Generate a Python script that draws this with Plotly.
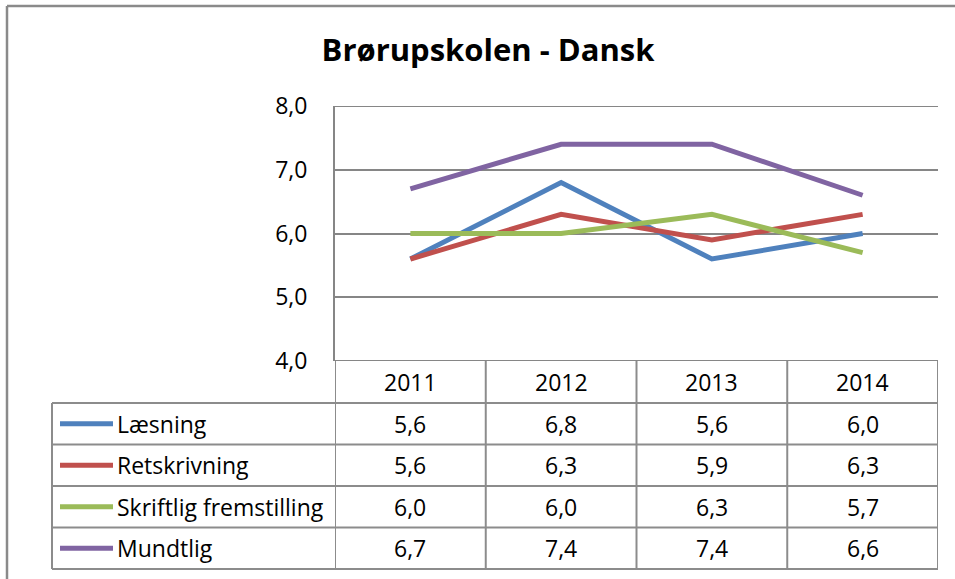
import plotly.graph_objects as go

title = "Brørupskolen - Dansk"
years = ["2011", "2012", "2013", "2014"]
series_names = ["Læsning", "Retskrivning", "Skriftlig fremstilling", "Mundtlig"]
laesning = [5.6, 6.8, 5.6, 6.0]
retskrivning = [5.6, 6.3, 5.9, 6.3]
skriftlig = [6.0, 6.0, 6.3, 5.7]
mundtlig = [6.7, 7.4, 7.4, 6.6]
series_values = [laesning, retskrivning, skriftlig, mundtlig]
colors = ["#4F81BD", "#C0504D", "#9BBB59", "#8064A2"]
y_ticks = [4, 5, 6, 7, 8]

W, H = 955, 579
L, R, T, B = 335, 938, 106, 361
FONT = "Open Sans"
FS = 23
GRID = "#868686"

def px(x):
    return (x - L) / (R - L)

def py(y):
    return (B - y) / (B - T)

fig = go.Figure()
xs = list(range(len(years)))
for name, vals, c in zip(series_names, series_values, colors):
    fig.add_trace(go.Scatter(x=xs, y=vals, mode="lines", name=name,
                             line=dict(color=c, width=5), showlegend=False,
                             cliponaxis=False))

shapes = []
ann = []
# outer chart border
shapes.append(dict(type="line", xref="paper", yref="paper", x0=px(7), x1=px(W + 5), y0=py(6), y1=py(6),
                   line=dict(color="#8a8a8a", width=2.5)))
shapes.append(dict(type="line", xref="paper", yref="paper", x0=px(7), x1=px(7), y0=py(6), y1=py(H + 5),
                   line=dict(color="#8a8a8a", width=2.5)))

# table geometry
row_top = 403
row_h = 41.5
n = len(series_names)
tab_bottom = row_top + row_h * n
lc = dict(color="#8c8c8c", width=2)
for k in range(len(years) + 1):
    shapes.append(dict(type="line", xref="x", yref="paper", x0=k - 0.5, x1=k - 0.5,
                       y0=py(B), y1=py(tab_bottom), line=lc))
shapes.append(dict(type="line", xref="paper", yref="paper", x0=px(52), x1=px(52),
                   y0=py(row_top), y1=py(tab_bottom), line=lc))
for i in range(n + 1):
    yy = row_top + row_h * i
    shapes.append(dict(type="line", xref="paper", yref="paper", x0=px(52), x1=1,
                       y0=py(yy), y1=py(yy), line=lc))

for k, yr in enumerate(years):
    ann.append(dict(x=k, y=py((B + row_top) / 2), xref="x", yref="paper", text=yr,
                    showarrow=False, yanchor="middle", xanchor="center",
                    font=dict(family=FONT, size=FS, color="black")))
for i, (name, vals, c) in enumerate(zip(series_names, series_values, colors)):
    yc = row_top + row_h * (i + 0.5)
    shapes.append(dict(type="line", xref="paper", yref="paper", x0=px(60), x1=px(113),
                       y0=py(yc), y1=py(yc), line=dict(color=c, width=5)))
    ann.append(dict(x=px(115), y=py(yc), xref="paper", yref="paper", text=name,
                    xanchor="left", yanchor="middle", showarrow=False,
                    font=dict(family=FONT, size=FS, color="black")))
    for k, v in enumerate(vals):
        ann.append(dict(x=k, y=py(yc), xref="x", yref="paper",
                        text=f"{v:.1f}".replace(".", ","), showarrow=False,
                        yanchor="middle", xanchor="center",
                        font=dict(family=FONT, size=FS, color="black")))

fig.update_layout(
    width=W, height=H,
    margin=dict(l=L, r=W - R, t=T, b=H - B, pad=0),
    paper_bgcolor="white", plot_bgcolor="white",
    separators=",.",
    title=dict(text="<b>" + title + "</b>", xref="container", x=488 / W, xanchor="center",
               yref="container", y=1 - 50 / H, yanchor="middle",
               font=dict(family=FONT, size=31, color="black")),
    xaxis=dict(range=[-0.5, len(years) - 0.5], showticklabels=False, showgrid=False,
               zeroline=False, showline=False, fixedrange=True),
    yaxis=dict(range=[4, 8], tickvals=y_ticks, tickformat=".1f", showgrid=True,
               gridcolor=GRID, gridwidth=2, zeroline=False, showline=True,
               linecolor=GRID, linewidth=2, ticks="", ticklabelstandoff=21,
               tickfont=dict(family=FONT, size=FS, color="black"), fixedrange=True),
    shapes=shapes, annotations=ann,
)
fig.add_shape(type="line", xref="paper", yref="y", x0=0, x1=1, y0=8, y1=8, line=dict(color=GRID, width=2))
fig.add_shape(type="line", xref="paper", yref="y", x0=0, x1=1, y0=4, y1=4, line=dict(color=GRID, width=2))

fig.write_html("out.html", config={"displayModeBar": False},
               post_script="document.body.style.margin='0';")
